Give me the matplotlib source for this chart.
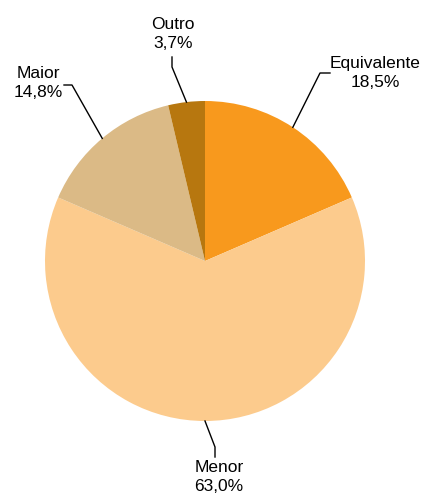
import numpy as np
import matplotlib.pyplot as plt

W, H = 430, 497

categories = ["Equivalente", "Menor", "Maior", "Outro"]
values = [18.5, 63.0, 14.8, 3.7]
colors = ["#F8991D", "#FCCB8D", "#DBBA86", "#B7770F"]

# label layout in pixel coords (top-left origin): bend point, line end, text anchor, alignment
bends = [(320, 73), (215, 447), (72, 85), (172, 67)]
ends = [(330, 73), (215, 457), (64, 85), (172, 57)]
text_pos = [(330, 73), (219, 460), (63, 83), (173, 51)]
text_align = [("left", "center"), ("center", "top"), ("right", "center"), ("center", "bottom")]

plt.rcParams["font.family"] = ["Liberation Sans", "DejaVu Sans"]

fig = plt.figure(figsize=(W / 100, H / 100), dpi=100)
ax = fig.add_axes([0, 0, 1, 1])

cx, cy, r = 205, H - 261, 160
wedges, _ = ax.pie(
    values,
    colors=colors,
    startangle=90,
    counterclock=False,
    center=(cx, cy),
    radius=r,
    frame=True,
    wedgeprops=dict(linewidth=0),
)

for w, name, val, b, e, t, (ha, va) in zip(wedges, categories, values, bends, ends, text_pos, text_align):
    mid = np.deg2rad((w.theta1 + w.theta2) / 2)
    px, py = cx + r * np.cos(mid), cy + r * np.sin(mid)
    ax.plot([px, b[0], e[0]], [py, H - b[1], H - e[1]], color="black", lw=1)
    label = f"{name}\n{val:.1f}%".replace(".", ",")
    ax.text(t[0], H - t[1], label, ha=ha, va=va, multialignment="center",
            fontsize=12.5, linespacing=1.35)

ax.set_xlim(0, W)
ax.set_ylim(0, H)
ax.set_aspect("equal")
ax.axis("off")

fig.savefig("out.png", dpi=100)
